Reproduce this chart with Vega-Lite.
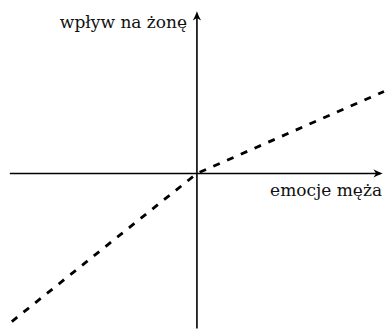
{
  "$schema": "https://vega.github.io/schema/vega-lite/v6.json",
  "width": 390,
  "height": 330,
  "padding": 0,
  "autosize": {"type": "fit", "contains": "padding"},
  "background": "white",
  "config": {"view": {"stroke": null}},
  "datasets": {
    "axes": [
      {"x": -190, "y": 0, "x2": 186, "y2": 0},
      {"x": 0, "y": -156, "x2": 0, "y2": 160}
    ],
    "curve": [
      {"x": -188, "y": -149},
      {"x": 0, "y": 0},
      {"x": 190, "y": 82.5}
    ],
    "heads": [
      {"x": 0, "y": 158.5, "angle": 0},
      {"x": 184, "y": 0, "angle": 90}
    ],
    "labels": [
      {"x": -10, "y": 146.5, "label": "wpływ na żonę"},
      {"x": 188, "y": -22.5, "label": "emocje męża"}
    ]
  },
  "layer": [
    {
      "data": {"name": "axes"},
      "mark": {"type": "rule", "color": "black", "strokeWidth": 1.6},
      "encoding": {
        "x": {"field": "x", "type": "quantitative", "scale": {"domain": [-200, 190], "nice": false, "zero": false}, "axis": null},
        "x2": {"field": "x2"},
        "y": {"field": "y", "type": "quantitative", "scale": {"domain": [-155.5, 174.5], "nice": false, "zero": false}, "axis": null},
        "y2": {"field": "y2"}
      }
    },
    {
      "data": {"name": "curve"},
      "mark": {"type": "line", "color": "black", "strokeWidth": 2.8, "strokeDash": [7, 8], "strokeCap": "butt"},
      "encoding": {
        "x": {"field": "x", "type": "quantitative"},
        "y": {"field": "y", "type": "quantitative"}
      }
    },
    {
      "data": {"name": "heads"},
      "mark": {"type": "point", "filled": true, "color": "black", "opacity": 1, "size": 85, "shape": "M0,-1 Q0.4,0.2 0.9,1 L0,0.45 L-0.9,1 Q-0.4,0.2 0,-1 Z"},
      "encoding": {
        "x": {"field": "x", "type": "quantitative"},
        "y": {"field": "y", "type": "quantitative"},
        "angle": {"field": "angle", "type": "quantitative", "scale": null}
      }
    },
    {
      "data": {"name": "labels"},
      "mark": {"type": "text", "align": "right", "baseline": "alphabetic", "font": "DejaVu Serif", "fontSize": 17, "color": "#111111"},
      "encoding": {
        "x": {"field": "x", "type": "quantitative"},
        "y": {"field": "y", "type": "quantitative"},
        "text": {"field": "label"}
      }
    }
  ]
}
